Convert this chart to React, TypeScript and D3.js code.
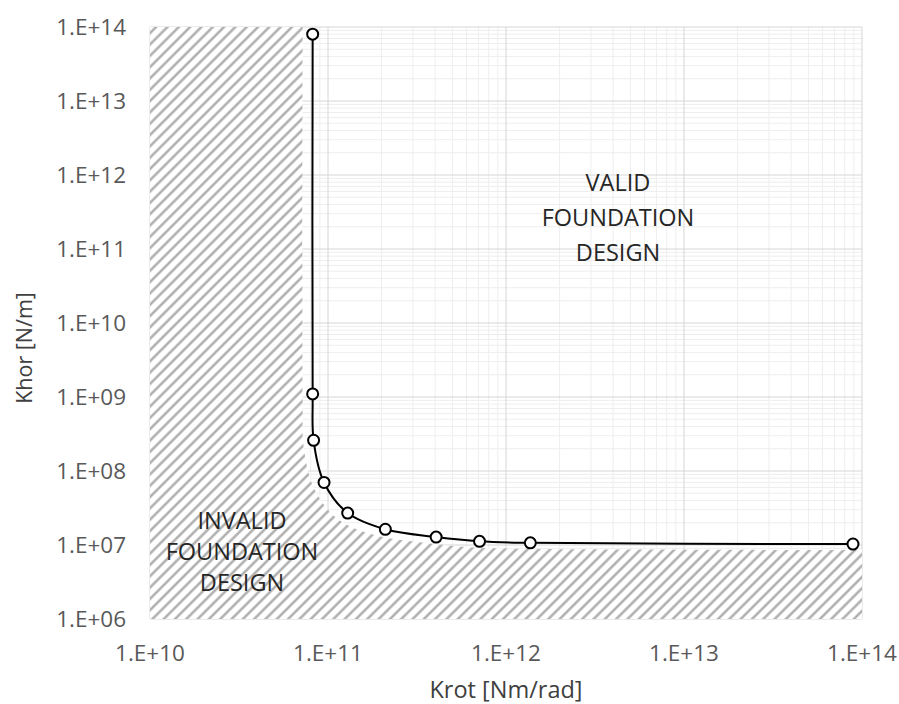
import React, { useRef, useEffect } from 'react';
import * as d3 from 'd3';

type Point = { krot: number; khor: number };

const krotValues = [8.2e10, 8.2e10, 8.3e10, 9.5e10, 1.29e11, 2.1e11, 4.05e11, 7.1e11, 1.37e12, 8.9e13];
const khorValues = [8.0e13, 1.1e9, 2.6e8, 7.0e7, 2.7e7, 1.63e7, 1.28e7, 1.12e7, 1.07e7, 1.03e7];

const xDomain = [1e10, 1e14];
const yDomain = [1e6, 1e14];

const validLines = ['VALID', 'FOUNDATION', 'DESIGN'];
const invalidLines = ['INVALID', 'FOUNDATION', 'DESIGN'];

const W = 899;
const H = 704;
const margin = { top: 27, right: 37, bottom: 85, left: 150 };
const FONT = '"Open Sans", "Noto Sans", sans-serif';

const fmt = (v: number) => {
  const e = Math.round(Math.log10(v));
  return `1.E+${String(e).padStart(2, '0')}`;
};

const App = () => {
  const ref = useRef<SVGSVGElement | null>(null);

  useEffect(() => {
    if (!ref.current) return;
    const svg = d3.select(ref.current);
    svg.selectAll('*').remove();

    const data: Point[] = krotValues.map((k, i) => ({ krot: k, khor: khorValues[i] }));

    const x = d3.scaleLog().domain(xDomain).range([margin.left, W - margin.right]);
    const y = d3.scaleLog().domain(yDomain).range([H - margin.bottom, margin.top]);
    const [x0, x1] = x.range();
    const [y0, y1] = y.range();

    // hatch pattern
    const defs = svg.append('defs');
    const pat = defs
      .append('pattern')
      .attr('id', 'hatch')
      .attr('patternUnits', 'userSpaceOnUse')
      .attr('width', 8)
      .attr('height', 8)
      .attr('patternTransform', 'rotate(45)');
    pat.append('rect').attr('width', 8).attr('height', 8).attr('fill', '#fff');
    pat.append('line').attr('x1', 1.5).attr('y1', 0).attr('x2', 1.5).attr('y2', 8)
      .attr('stroke', '#a8a8a8').attr('stroke-width', 2.3);

    // grid
    const g = svg.append('g');
    const minorX: number[] = [];
    const minorY: number[] = [];
    for (let e = 10; e < 14; e++) for (let m = 2; m < 10; m++) minorX.push(m * 10 ** e);
    for (let e = 6; e < 14; e++) for (let m = 2; m < 10; m++) minorY.push(m * 10 ** e);
    const majorX = d3.range(10, 15).map((e) => 10 ** e);
    const majorY = d3.range(6, 15).map((e) => 10 ** e);

    g.selectAll('.mx').data(minorX).enter().append('line')
      .attr('x1', (d) => x(d)).attr('x2', (d) => x(d)).attr('y1', y1).attr('y2', y0)
      .attr('stroke', '#eeeeee').attr('stroke-width', 1);
    g.selectAll('.my').data(minorY).enter().append('line')
      .attr('y1', (d) => y(d)).attr('y2', (d) => y(d)).attr('x1', x0).attr('x2', x1)
      .attr('stroke', '#eeeeee').attr('stroke-width', 1);
    g.selectAll('.Mx').data(majorX).enter().append('line')
      .attr('x1', (d) => x(d)).attr('x2', (d) => x(d)).attr('y1', y1).attr('y2', y0)
      .attr('stroke', '#d6d6d6').attr('stroke-width', 1);
    g.selectAll('.My').data(majorY).enter().append('line')
      .attr('y1', (d) => y(d)).attr('y2', (d) => y(d)).attr('x1', x0).attr('x2', x1)
      .attr('stroke', '#d6d6d6').attr('stroke-width', 1);

    // invalid region, hugging the curve
    const dx = -10;
    const dy = 6;
    const pts = data.map((d) => [x(d.krot) + dx, y(d.khor) + dy] as [number, number]);
    pts[0] = [pts[0][0], y1];
    pts[pts.length - 1] = [x1, pts[pts.length - 1][1]];
    const edge = d3.line().curve(d3.curveCatmullRom.alpha(0.5))(pts) ?? '';
    const region = `M${x0},${y1}` + edge.replace(/^M/, 'L') + `L${x1},${y0}L${x0},${y0}Z`;
    svg.append('path').attr('d', region).attr('fill', 'url(#hatch)');

    // axes labels
    svg.append('g').selectAll('text').data(majorY).enter().append('text')
      .attr('x', 126).attr('y', (d) => y(d)).attr('dy', '0.35em')
      .attr('text-anchor', 'end').attr('fill', '#595959')
      .attr('font-family', FONT).attr('font-size', 22.5).text(fmt);
    svg.append('g').selectAll('text').data(majorX).enter().append('text')
      .attr('x', (d) => x(d)).attr('y', 653).attr('dy', '0.35em')
      .attr('text-anchor', 'middle').attr('fill', '#595959')
      .attr('font-family', FONT).attr('font-size', 22.5).text(fmt);

    svg.append('text').attr('x', (x0 + x1) / 2).attr('y', 690).attr('dy', '0.35em')
      .attr('text-anchor', 'middle').attr('fill', '#404040')
      .attr('font-family', FONT).attr('font-size', 23.5).text('Krot [Nm/rad]');
    svg.append('text')
      .attr('transform', `translate(24,348) rotate(-90)`).attr('dy', '0.35em')
      .attr('text-anchor', 'middle').attr('fill', '#404040')
      .attr('font-family', FONT).attr('font-size', 21.5).text('Khor [N/m]');

    // annotations
    validLines.forEach((t, i) => {
      svg.append('text').attr('x', 618).attr('y', 183 + i * 35).attr('dy', '0.35em')
        .attr('text-anchor', 'middle').attr('fill', '#262626')
        .attr('font-family', FONT).attr('font-size', 23.5).text(t);
    });
    invalidLines.forEach((t, i) => {
      svg.append('text').attr('x', 242).attr('y', 521 + i * 31).attr('dy', '0.35em')
        .attr('text-anchor', 'middle').attr('fill', '#262626')
        .attr('font-family', FONT).attr('font-size', 23.5).text(t);
    });

    // series
    const line = d3.line<Point>().x((d) => x(d.krot)).y((d) => y(d.khor))
      .curve(d3.curveCatmullRom.alpha(0.5));
    svg.append('path').datum(data).attr('d', line).attr('fill', 'none')
      .attr('stroke', '#000').attr('stroke-width', 2);
    svg.selectAll('.dot').data(data).enter().append('circle')
      .attr('cx', (d) => x(d.krot)).attr('cy', (d) => y(d.khor)).attr('r', 5.5)
      .attr('fill', '#fff').attr('stroke', '#000').attr('stroke-width', 2);
  }, []);

  return (
    <svg
      ref={ref}
      width={W}
      height={H}
      style={{ position: 'absolute', left: 0, top: 0, background: '#fff' }}
    />
  );
};

export default App;
